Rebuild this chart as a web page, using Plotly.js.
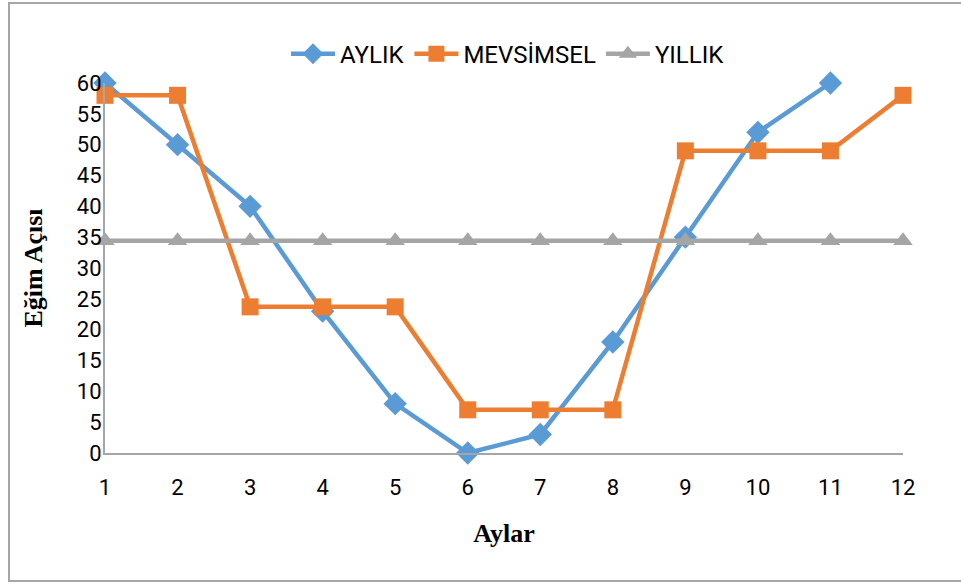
<!DOCTYPE html>
<html>
<head>
<meta charset="utf-8">
<script src="https://cdn.plot.ly/plotly-3.0.1.min.js"></script>
<style>
  html, body { margin: 0; padding: 0; background: #ffffff; }
  #wrap { position: relative; width: 961px; height: 587px; overflow: hidden; }
  #chart { position: absolute; left: 0; top: 0; width: 961px; height: 587px; }
  #frame { position: absolute; left: 8px; top: 2px; width: 980px; height: 580px;
           border: 2px solid #a6a6a6; pointer-events: none; box-sizing: border-box; }
</style>
</head>
<body>
<div id="wrap">
  <div id="chart"></div>
  <div id="frame"></div>
</div>
<script>
const months = [1, 2, 3, 4, 5, 6, 7, 8, 9, 10, 11, 12];
const aylik = [60, 50, 40, 23, 8, 0, 3, 18, 35, 52, 60, null];
const mevsimsel = [58, 58, 23.7, 23.7, 23.7, 7, 7, 7, 49, 49, 49, 58];
const yillik = [34.4, 34.4, 34.4, 34.4, 34.4, 34.4, 34.4, 34.4, 34.4, 34.4, 34.4, 34.4];
const seriesNames = ['AYLIK', 'MEVSİMSEL', 'YILLIK'];
const yTicks = [0, 5, 10, 15, 20, 25, 30, 35, 40, 45, 50, 55, 60];

const tickFont = { family: 'Roboto, "Liberation Sans", sans-serif', size: 22, color: '#000000' };
const titleFont = { family: '"Liberation Serif", "DejaVu Serif", serif', size: 26, color: '#000000', weight: 'bold' };

const traces = [
  { x: months, y: aylik, name: seriesNames[0], type: 'scatter', mode: 'lines+markers', cliponaxis: false,
    line: { color: '#5B9BD5', width: 4.5 }, marker: { symbol: 'diamond', size: 18, color: '#5B9BD5' } },
  { x: months, y: mevsimsel, name: seriesNames[1], type: 'scatter', mode: 'lines+markers', cliponaxis: false,
    line: { color: '#ED7D31', width: 4.5 }, marker: { symbol: 'square', size: 17, color: '#ED7D31' } },
  { x: months, y: yillik, name: seriesNames[2], type: 'scatter', mode: 'lines+markers', cliponaxis: false,
    line: { color: '#A5A5A5', width: 4.5 }, marker: { symbol: 'triangle-up', size: 17, color: '#A5A5A5' } }
];

const layout = {
  width: 961, height: 587,
  margin: { l: 105, r: 58, t: 83, b: 134 },
  paper_bgcolor: 'rgba(0,0,0,0)', plot_bgcolor: 'rgba(0,0,0,0)',
  showlegend: true,
  legend: { orientation: 'h', x: 0.505, xanchor: 'center', y: 1.078, yanchor: 'middle',
            font: { family: 'Roboto, "Liberation Sans", sans-serif', size: 24, color: '#000000' },
            itemwidth: 44, tracegroupgap: 0 },
  xaxis: {
    range: [1, 12], tickvals: months, ticktext: months.map(String),
    showgrid: false, zeroline: false, showline: true, linecolor: '#a6a6a6', linewidth: 2,
    ticks: '', tickfont: tickFont, ticklabelstandoff: 14,
    title: { text: 'Aylar', font: titleFont }
  },
  yaxis: {
    range: [0, 60], tickvals: yTicks, ticktext: yTicks.map(String),
    showgrid: false, zeroline: false, showline: true, linecolor: '#a6a6a6', linewidth: 2,
    ticks: '', tickfont: tickFont, ticklabelstandoff: -3,
    title: { text: 'Eğim Açısı', font: titleFont }
  }
};

Plotly.newPlot('chart', traces, layout, { displayModeBar: false, staticPlot: true });
</script>
</body>
</html>
